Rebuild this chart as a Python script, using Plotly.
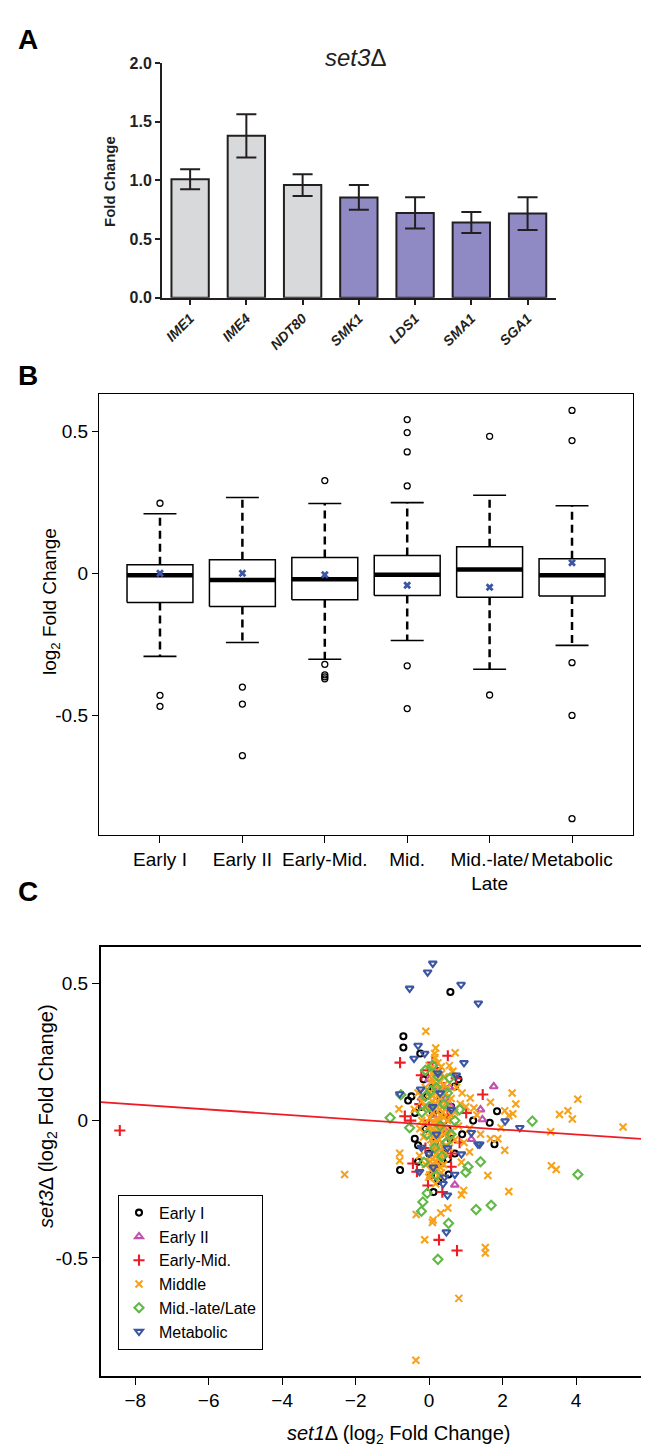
import plotly.graph_objects as go

W, H = 649, 1449
FONT = "Liberation Sans, Arial, sans-serif"

def px(x):
    return x / W

def py(y):
    return 1 - y / H

# ---------------- Panel A data ----------------
genes = ["IME1", "IME4", "NDT80", "SMK1", "LDS1", "SMA1", "SGA1"]
fold = [1.01, 1.38, 0.96, 0.855, 0.723, 0.641, 0.717]
fold_err = [0.085, 0.185, 0.093, 0.105, 0.133, 0.09, 0.14]
bar_colors = ["#d8d9da", "#d8d9da", "#d8d9da", "#8f8ac4", "#8f8ac4", "#8f8ac4", "#8f8ac4"]
a_yticks = [0, 0.5, 1.0, 1.5, 2.0]
a_yticktext = ["0.0", "0.5", "1.0", "1.5", "2.0"]

# ---------------- Panel B data ----------------
b_cats = ["Early I", "Early II", "Early-Mid.", "Mid.", "Mid.-late/<br>Late", "Metabolic"]
b_q1 = [-0.103, -0.117, -0.093, -0.078, -0.084, -0.080]
b_med = [-0.007, -0.024, -0.021, -0.005, 0.013, -0.007]
b_q3 = [0.030, 0.048, 0.056, 0.063, 0.094, 0.051]
b_lo = [-0.293, -0.244, -0.303, -0.237, -0.338, -0.254]
b_hi = [0.210, 0.267, 0.246, 0.249, 0.275, 0.238]
b_mean = [0.0, 0.0, -0.005, -0.042, -0.049, 0.037]
b_out = [
    [0.247, -0.430, -0.469],
    [-0.401, -0.461, -0.643],
    [0.327, -0.321, -0.358, -0.365, -0.372],
    [0.542, 0.496, 0.428, 0.308, -0.326, -0.477],
    [0.483, -0.429],
    [0.574, 0.468, -0.315, -0.501, -0.865],
]
b_yticks = [-0.5, 0, 0.5]
b_yticktext = ["-0.5", "0", "0.5"]

# ---------------- Panel C data ----------------
c_groups = ["Early I", "Early II", "Early-Mid.", "Middle", "Mid.-late/Late", "Metabolic"]

early1_x = [0.58, -0.70, -0.70, -0.24, -0.57, -0.48, 0.44, 0.70, 1.85, 1.65, -0.39, 1.78, 0.51, -0.38,
            -0.30, 0.58, -0.79, 0.12, 0.53, -0.2, 0.1, 0.3, 0.0, 0.25, -0.1, 0.4, 0.2, 0.05, 0.35,
            -0.15, 0.6, 0.15, 0.45, -0.05, 0.3, 0.1, 0.5, 0.9, 1.2, 0.8, -0.3, 0.25, 0.7]
early1_y = [0.468, 0.307, 0.266, 0.244, 0.073, 0.088, 0.114, 0.124, 0.034, -0.008, -0.066, -0.086, -0.14,
            0.028, -0.09, -0.066, -0.180, -0.260, -0.196, 0.05, 0.12, -0.05, -0.12, 0.02, -0.03, 0.0,
            0.18, -0.2, -0.15, 0.15, 0.05, -0.08, -0.1, 0.09, 0.08, 0.03, -0.03, -0.05, 0.0, 0.15,
            -0.15, -0.22, -0.12]

early2_x = [1.76, 1.45, 1.40, 0.56, 0.24, -0.21, 1.15, 0.70, 0.33, 0.1, 0.4, 0.2, 0.6, 0.0, 0.45]
early2_y = [0.124, 0.004, 0.04, 0.121, 0.112, 0.082, -0.068, -0.234, -0.160, 0.02, -0.03, -0.1, 0.05,
            0.15, 0.08]

emid_x = [-8.42, -0.79, 0.51, 0.09, -0.21, 1.46, -0.66, -0.03, 0.74, 1.01, 0.83, -0.44, -0.33, -0.03,
          0.60, 0.36, 0.27, 0.76, 0.2, 0.1, 0.3, -0.1, 0.4, 0.2, 0.5, 0.0, 0.6, -0.25, 0.15, -0.5]
emid_y = [-0.036, 0.211, 0.236, 0.211, 0.165, 0.095, 0.016, 0.183, 0.154, 0.028, -0.08, -0.156, -0.186,
          -0.236, -0.168, -0.26, -0.434, -0.473, 0.19, 0.05, -0.02, -0.1, 0.12, -0.06, 0.02, 0.0, -0.12,
          0.06, -0.17, 0.0]

mid_x = [-0.09, 0.18, 0.15, 0.71, 2.26, 4.05, 3.78, 3.55, 3.90, 5.28, 3.31, 2.36, 1.67, 1.12, 1.22, 2.06,
         2.17, 2.28, 1.96, 1.87, 1.67, 2.06, -0.82, -0.80, -0.80, 0.41, 0.63, 0.33, -2.30, 3.33, 3.46,
         1.60, 2.17, 1.10, 0.88, 0.94, 0.88, 0.18, 0.02, -0.01, 0.51, 0.32, -0.35, 0.11, 0.09, -0.12,
         1.53, 1.53, -0.26, -0.36, 0.81,
         0.0, 0.1, 0.2, 0.3, 0.4, 0.5, -0.1, 0.0, 0.1, 0.2, 0.3, 0.4, 0.5, 0.6, -0.2, -0.1, 0.0, 0.1,
         0.2, 0.3, 0.4, 0.5, 0.6, 0.7, -0.2, -0.1, 0.0, 0.1, 0.2, 0.3, 0.4, 0.5, 0.6, 0.7, 0.8, -0.15,
         0.05, 0.15, 0.25, 0.35, 0.45, 0.55, 0.0, 0.1, 0.2, 0.3, 0.4, -0.1, 0.05, 0.25, 0.15, 0.35,
         0.25, 0.45, 0.05, 0.9, 1.0, 1.3, 1.1, 0.95, 1.4, 0.75, -0.3, -0.25, -0.4, 0.65, 0.55, 0.85,
         0.12, 0.22, 0.32, 0.08, 0.18, 0.28, 0.38, 0.02, 0.12, 0.22, 0.32, 0.42, 0.06, 0.16, 0.26,
         0.36, 0.46, 0.1, 0.2, 0.3, 0.4, 0.14, 0.24, 0.34, 0.04, 0.14, 0.24, 0.34, 0.08, 0.18, 0.28,
         0.38, 0.12, 0.22, 0.32, 0.2, 0.3, 0.16, 0.26, 0.1]
mid_y = [0.325, 0.264, 0.244, 0.247, 0.100, 0.078, 0.036, 0.022, 0.006, -0.023, -0.041, 0.060, 0.067,
         0.082, 0.046, 0.036, 0.018, 0.025, -0.026, -0.066, -0.066, -0.108, 0.042, -0.119, -0.146,
         0.160, 0.178, 0.196, -0.196, -0.164, -0.178, -0.200, -0.258, -0.114, -0.152, -0.254, -0.270,
         -0.230, -0.198, -0.206, -0.318, -0.336, -0.342, -0.362, -0.371, -0.434, -0.462, -0.482,
         -0.128, -0.872, -0.647,
         0.2, 0.17, 0.15, 0.14, 0.13, 0.12, 0.12, 0.1, 0.09, 0.1, 0.08, 0.07, 0.06, 0.08, 0.07, 0.05,
         0.04, 0.03, 0.05, 0.02, 0.01, 0.0, 0.02, 0.03, 0.0, -0.01, -0.02, -0.03, -0.01, -0.04, -0.05,
         -0.06, -0.04, -0.07, -0.02, -0.06, -0.07, -0.09, -0.1, -0.08, -0.12, -0.1, -0.13, -0.14,
         -0.15, -0.17, -0.16, -0.16, -0.18, -0.2, 0.06, 0.05, -0.05, 0.1, 0.14, 0.1, 0.05, 0.02,
         -0.03, -0.08, -0.05, 0.12, 0.1, -0.03, 0.04, 0.18, 0.2, 0.06,
         0.16, 0.13, 0.11, 0.07, 0.06, 0.04, 0.03, 0.01, -0.01, 0.0, -0.02, -0.03, -0.04, -0.05,
         -0.07, -0.08, -0.09, -0.11, -0.12, -0.13, -0.1, 0.19, 0.21, 0.17, -0.15, -0.17, -0.14,
         -0.19, 0.09, 0.08, 0.12, 0.05, -0.06, -0.04, 0.02, 0.15, 0.11, 0.23, 0.0, -0.08]

late_x = [-1.06, 2.81, -0.53, -0.10, 0.56, -0.77, -0.10, 0.83, 1.40, 0.47, 1.06, 1.00, 4.05, -0.05,
          -0.17, -0.21, 1.28, 1.69, 0.53, 0.24, -0.14, 0.1, 0.2, 0.0, 0.3, 0.15, 0.4, -0.05, 0.25,
          0.6, 0.35, 0.05, 0.5, 0.2, 0.7, -0.2]
late_y = [0.010, -0.002, -0.026, 0.183, 0.154, 0.094, 0.088, 0.04, -0.150, -0.08, -0.168, -0.188,
          -0.196, -0.264, -0.296, -0.330, -0.324, -0.308, -0.374, -0.505, -0.152, 0.2, 0.12, 0.05,
          -0.02, -0.1, 0.06, -0.05, 0.16, -0.05, -0.13, 0.11, 0.1, -0.2, 0.0, 0.03]

metab_x = [0.10, -0.04, -0.53, 0.87, 1.34, -0.30, -0.41, -0.12, 0.95, 0.74, -0.23, -0.80, 2.47, 2.07,
           1.38, 1.15, -0.21, 0.24, -0.26, 0.11, 0.42, 0.70, 0.38, 0.50, 0.47, 0.88, 1.33, 0.1, 0.3,
           0.2, 0.5, 0.0, 0.6]
metab_y = [0.572, 0.540, 0.481, 0.495, 0.427, 0.273, 0.226, 0.244, 0.21, 0.165, 0.114, 0.097, -0.026,
           -0.002, -0.086, -0.044, -0.098, 0.172, -0.186, -0.170, -0.206, -0.196, -0.230, -0.272,
           -0.406, -0.122, -0.086, 0.05, 0.1, -0.05, -0.1, -0.12, 0.04]

c_x = [early1_x, early2_x, emid_x, mid_x, late_x, metab_x]
c_y = [early1_y, early2_y, emid_y, mid_y, late_y, metab_y]
c_colors = ["#000000", "#c052ad", "#ee1c25", "#f7a21b", "#62b847", "#3a56a5"]
c_symbols = ["circle-open", "triangle-up-open", "cross-thin-open", "x-thin-open", "diamond-open",
             "triangle-down-open"]
c_sizes = [6, 7, 8, 7, 7, 7]

fit_intercept = -0.0144
fit_slope = -0.0091
c_xrange = [-8.94, 6.15]
c_yrange = [-0.929, 0.633]
c_xticks = [-8, -6, -4, -2, 0, 2, 4]
c_yticks = [-0.5, 0, 0.5]
c_yticktext = ["-0.5", "0", "0.5"]

fig = go.Figure()

# ---- Panel A ----
fig.add_trace(go.Bar(
    x=genes, y=fold, width=0.664,
    marker=dict(color=bar_colors, line=dict(color="#231f20", width=2)),
    error_y=dict(type="data", array=fold_err, visible=True, thickness=2, width=10, color="#231f20"),
    xaxis="x", yaxis="y", showlegend=False,
))

# ---- Panel B ----
bx = list(range(1, len(b_cats) + 1))
hw, cw = 0.4, 0.2
box_x, box_y, med_x, med_y, wh_x, wh_y, cap_x, cap_y = [], [], [], [], [], [], [], []
for i, xc in enumerate(bx):
    box_x += [xc - hw, xc + hw, xc + hw, xc - hw, xc - hw, None]
    box_y += [b_q1[i], b_q1[i], b_q3[i], b_q3[i], b_q1[i], None]
    med_x += [xc - hw, xc + hw, None]
    med_y += [b_med[i], b_med[i], None]
    wh_x += [xc, xc, None, xc, xc, None]
    wh_y += [b_q3[i], b_hi[i], None, b_q1[i], b_lo[i], None]
    cap_x += [xc - cw, xc + cw, None, xc - cw, xc + cw, None]
    cap_y += [b_hi[i], b_hi[i], None, b_lo[i], b_lo[i], None]

fig.add_trace(go.Scatter(x=wh_x, y=wh_y, mode="lines", line=dict(color="black", width=2.5, dash="8px,5px"),
                         xaxis="x2", yaxis="y2", showlegend=False, hoverinfo="skip"))
fig.add_trace(go.Scatter(x=cap_x, y=cap_y, mode="lines", line=dict(color="black", width=1.6),
                         xaxis="x2", yaxis="y2", showlegend=False, hoverinfo="skip"))
fig.add_trace(go.Scatter(x=box_x, y=box_y, mode="lines", line=dict(color="black", width=1.5),
                         xaxis="x2", yaxis="y2", showlegend=False, hoverinfo="skip"))
fig.add_trace(go.Scatter(x=med_x, y=med_y, mode="lines", line=dict(color="black", width=4.5),
                         xaxis="x2", yaxis="y2", showlegend=False, hoverinfo="skip"))
ox, oy = [], []
for i, xc in enumerate(bx):
    for v in b_out[i]:
        ox.append(xc)
        oy.append(v)
fig.add_trace(go.Scatter(x=ox, y=oy, mode="markers",
                         marker=dict(symbol="circle-open", size=6, color="black", line=dict(width=1.3)),
                         xaxis="x2", yaxis="y2", showlegend=False))
fig.add_trace(go.Scatter(x=bx, y=b_mean, mode="markers",
                         marker=dict(symbol="x", size=7, color="#3a56a5", line=dict(width=0)),
                         xaxis="x2", yaxis="y2", showlegend=False))

# ---- Panel C ----
for g, xs, ys, col, sym, sz in zip(c_groups, c_x, c_y, c_colors, c_symbols, c_sizes):
    fig.add_trace(go.Scatter(
        x=xs, y=ys, mode="markers", name=g,
        marker=dict(symbol=sym, size=sz, color=col, line=dict(color=col, width=2.1)),
        xaxis="x3", yaxis="y3", showlegend=True,
    ))
fig.add_trace(go.Scatter(
    x=c_xrange, y=[fit_intercept + fit_slope * v for v in c_xrange], mode="lines",
    line=dict(color="#ee1c25", width=1.8), xaxis="x3", yaxis="y3", showlegend=False, hoverinfo="skip",
))

axis_dark = "#231f20"
fig.update_layout(
    width=W, height=H, margin=dict(l=0, r=0, t=0, b=0),
    paper_bgcolor="white", plot_bgcolor="white",
    font=dict(family=FONT, color="black"),
    xaxis=dict(domain=[px(154), px(547.7)], anchor="y", type="category", range=[-0.5, 6.5],
               showline=True, linecolor=axis_dark, linewidth=2, ticks="outside", ticklen=5,
               tickwidth=2, tickcolor=axis_dark, tickangle=-45, showgrid=False, zeroline=False,
               tickvals=genes, ticktext=["<b><i>%s</i></b>" % g for g in genes],
               tickfont=dict(size=14, family=FONT, color=axis_dark)),
    yaxis=dict(domain=[py(285), py(47.7)], anchor="x", range=[0, 2.0], showline=True,
               linecolor=axis_dark, linewidth=2, ticks="outside", ticklen=5, tickwidth=2,
               tickcolor=axis_dark, showgrid=False, zeroline=False, tickvals=a_yticks,
               ticktext=["<b>%s</b>" % t for t in a_yticktext],
               tickfont=dict(size=16, family=FONT, color=axis_dark)),
    xaxis2=dict(domain=[px(91), px(625)], anchor="y2", range=[0.26, 6.74], showline=True, mirror=True,
                linecolor="black", linewidth=1.3, ticks="outside", ticklen=7, tickcolor="black",
                showgrid=False, zeroline=False, tickvals=bx, ticktext=b_cats,
                tickfont=dict(size=19, family=FONT)),
    yaxis2=dict(domain=[py(828.3), py(382.5)], anchor="x2", range=[-0.921, 0.632], showline=True,
                mirror=True, linecolor="black", linewidth=1.3, ticks="outside", ticklen=6,
                tickcolor="black", showgrid=False, zeroline=False, tickvals=b_yticks,
                ticktext=b_yticktext, tickfont=dict(size=19, family=FONT)),
    xaxis3=dict(domain=[px(92.7), px(647)], anchor="y3", range=c_xrange, showline=True, mirror=True,
                linecolor="black", linewidth=1.5, ticks="outside", ticklen=7, tickcolor="black",
                showgrid=False, zeroline=False, tickvals=c_xticks, tickfont=dict(size=19, family=FONT)),
    yaxis3=dict(domain=[py(1376), py(941.7)], anchor="x3", range=c_yrange, showline=True, mirror=True,
                linecolor="black", linewidth=1.5, ticks="outside", ticklen=7, tickcolor="black",
                showgrid=False, zeroline=False, tickvals=c_yticks, ticktext=c_yticktext,
                tickfont=dict(size=19, family=FONT)),
    legend=dict(x=px(110), y=py(1192.7), xanchor="left", yanchor="top", bordercolor="black",
                borderwidth=1, bgcolor="white", font=dict(size=16, family=FONT), itemwidth=30,
                tracegroupgap=0),
)

ann = [
    dict(text="<b>A</b>", x=px(20), y=py(24), font=dict(size=28)),
    dict(text="<b>B</b>", x=px(20), y=py(364), font=dict(size=28)),
    dict(text="<b>C</b>", x=px(20), y=py(886), font=dict(size=28)),
    dict(text="<i>set3</i>Δ", x=px(347), y=py(42), font=dict(size=24, color=axis_dark)),
    dict(text="<b>Fold Change</b>", x=px(101), y=py(168), font=dict(size=15, color=axis_dark),
         textangle=-90),
    dict(text="log<sub>2</sub> Fold Change", x=px(43), y=py(593), font=dict(size=19), textangle=-90),
    dict(text="<i>set3</i>Δ (log<sub>2</sub> Fold Change)", x=px(40), y=py(1113), font=dict(size=20),
         textangle=-90),
    dict(text="<i>set1</i>Δ (log<sub>2</sub> Fold Change)", x=px(391), y=py(1435), font=dict(size=20)),
]
for a in ann:
    a.update(xref="paper", yref="paper", showarrow=False, xanchor="center", yanchor="middle")
    a["font"].setdefault("family", FONT)
    fig.add_annotation(**a)

fig.write_html("out.html")
